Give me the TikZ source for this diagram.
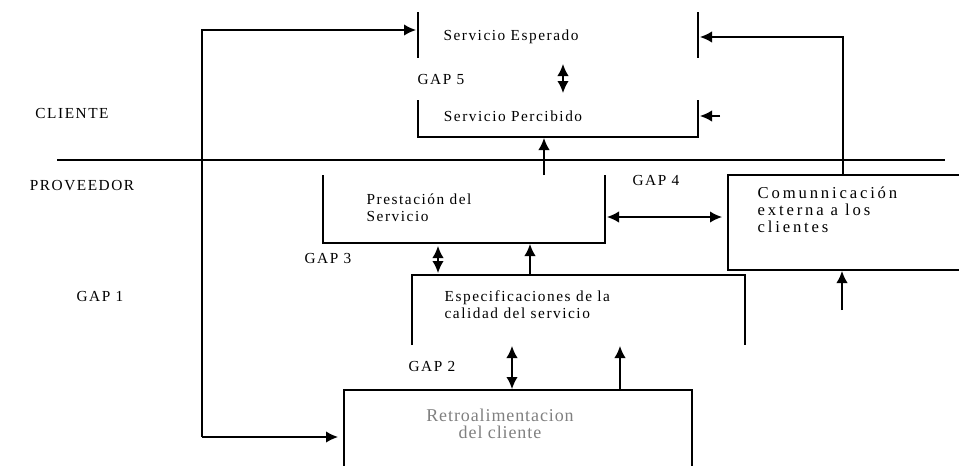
\documentclass[tikz,border=0pt]{standalone}
\usepackage{fontspec}
\setmainfont{Liberation Serif}
\usetikzlibrary{arrows.meta}

\begin{document}
\begin{tikzpicture}[x=0.75pt,y=-0.75pt,line width=1pt,
	>={Latex[length=9pt,width=8.5pt]},
	lbl/.style={font=\fontsize{11.5}{12.5}\selectfont\addfontfeature{LetterSpace=10}, inner sep=0pt},
	blk/.style={lbl, align=left, anchor=north west}]
	\useasboundingbox (0,0) rectangle (959,465);
	% lados de las cajas
	\coordinate (eTL) at (418,12);
	\coordinate (eBL) at (418,58);
	\coordinate (eTR) at (698,12);
	\coordinate (eBR) at (698,58);
	\coordinate (pTL) at (418,100);
	\coordinate (pBL) at (418,137);
	\coordinate (pTR) at (698,100);
	\coordinate (pBR) at (698,137);
	\coordinate (sTL) at (323,175);
	\coordinate (sBL) at (323,243);
	\coordinate (sTR) at (605,175);
	\coordinate (sBR) at (605,243);
	\coordinate (qTL) at (412,275);
	\coordinate (qBL) at (412,345);
	\coordinate (qTR) at (745,275);
	\coordinate (qBR) at (745,345);
	\coordinate (rTL) at (344,390);
	\coordinate (rBL) at (344,470);
	\coordinate (rTR) at (692,390);
	\coordinate (rBR) at (692,470);
	\coordinate (cTL) at (728,175);
	\coordinate (cBR) at (975,270);

	\draw (eTL) -- (eBL) (eTR) -- (eBR);
	\draw (pTL) -- (pBL) -- (pBR) -- (pTR);
	\draw (sTL) -- (sBL) -- (sBR) -- (sTR);
	\draw (qBL) -- (qTL) -- (qTR) -- (qBR);
	\draw (rBL) -- (rTL) -- (rTR) -- (rBR);
	\draw (cTL) rectangle (cBR);

	% textos
	\node [lbl] (esp) at (511,37) {Servicio Esperado};
	\node [lbl] (perc) at (513,116) {Servicio Percibido};
	\node [blk] (prest) at (366,193) {Prestación del\\Servicio};
	\node [blk, font=\fontsize{12.5}{13}\selectfont\addfontfeature{LetterSpace=17}] (comu) at (757,186) {Comunnicación\\externa a los\\clientes};
	\node [blk] (espec) at (444,290) {Especificaciones de la\\calidad del servicio};
	\node [lbl, align=center, text=gray, font=\fontsize{13.5}{13}\selectfont\addfontfeature{LetterSpace=5}] (retro) at (500,424) {Retroalimentacion\\del cliente};
	\node [lbl] (cli) at (72,113) {CLIENTE};
	\node [lbl] (prov) at (82,186) {PROVEEDOR};
	\node [lbl] (gap1) at (100,296) {GAP 1};
	\node [lbl] (gap2) at (432,366) {GAP 2};
	\node [lbl] (gap3) at (328,258) {GAP 3};
	\node [lbl] (gap4) at (656,180) {GAP 4};
	\node [lbl] (gap5) at (441,79) {GAP 5};

	% linea cliente / proveedor
	\draw (57,160) -- (945,160);

	% conectores
	\draw [<->] (563,64) -- (563,93);
	\draw [->] (544,175) -- (544,138);
	\draw [<->] (607,217) -- (722,217);
	\draw [<->] (438,246) -- (438,273);
	\draw [->] (530,275) -- (530,244);
	\draw [<->] (512,346) -- (512,389);
	\draw [->] (620,390) -- (620,346);
	\draw [->] (842,310) -- (842,271);
	\draw [->] (843,175) -- (843,37) -- (700,37);
	\draw [->] (720,116) -- (700,116);
	\draw [->] (202,437) -- (202,30) -- (416,30);
	\draw [->] (202,437) -- (338,437);
\end{tikzpicture}
\end{document}
